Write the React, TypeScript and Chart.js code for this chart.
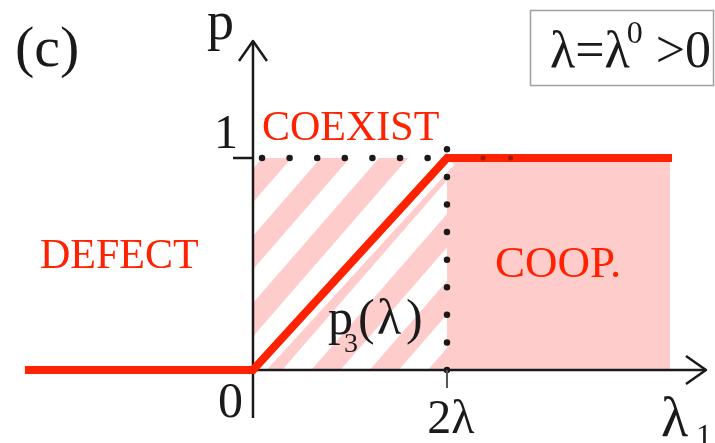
import React, { useEffect, useRef } from 'react';
import { Chart, registerables } from 'chart.js';

Chart.register(...registerables);

const W = 715;
const H = 443;

// Axis ranges: λ1 in units of λ, p is the cooperation probability
const LAMBDA_MIN = -2.608;
const LAMBDA_MAX = 4.763;
const P_MIN = -0.3443;
const P_MAX = 1.7453;

const lambdaTicks = [0, 2];
const lambdaTickLabels = ['0', '2λ'];
const pTicks = [1];
const pTickLabels = ['1'];

// Phase boundary p3(λ1)
const boundaryLambda = [-2.351, 0, 2, 4.32];
const boundaryP = [0, 0, 1, 1];

// Phase regions (λ1 extent)
const coexistLambda = [0, 2];
const coopLambda = [2, 4.299];
const regionNames = ['DEFECT', 'COEXIST', 'COOP.'];

const RED = '#ff2200';
const PINK = '#ffcccc';
const INK = '#1a1a1a';

const pts = (xs: number[], ys: number[]) => xs.map((x, i) => ({ x, y: ys[i] }));

const seg = (data: { x: number; y: number }[], extra: any) => ({
  data,
  pointRadius: 0,
  pointHoverRadius: 0,
  fill: false,
  tension: 0,
  borderCapStyle: 'butt',
  borderJoinStyle: 'miter',
  ...extra,
});

// Diagonal stripes for the coexistence region, parallel to p3(λ)
function stripePattern(chart: any): CanvasPattern | string {
  const { ctx, scales } = chart;
  const ox = scales.x.getPixelForValue(0);
  const oy = scales.y.getPixelForValue(0);
  const period = 44;
  const band = 22;
  const tile = document.createElement('canvas');
  tile.width = period;
  tile.height = 8;
  const t = tile.getContext('2d')!;
  t.fillStyle = '#ffffff';
  t.fillRect(0, 0, period, 8);
  t.fillStyle = PINK;
  t.fillRect(0, 0, band, 8);
  const pat = ctx.createPattern(tile, 'repeat');
  if (!pat) return PINK;
  pat.setTransform(new DOMMatrix().translate(ox, oy).rotate(41));
  return pat;
}

function serifFont(size: number) {
  return size + 'px "Liberation Serif"';
}

const labelsPlugin = {
  id: 'phaseLabels',
  afterDatasetsDraw(chart: any) {
    const c = chart.ctx as CanvasRenderingContext2D;
    const X = (v: number) => chart.scales.x.getPixelForValue(v);
    const Y = (v: number) => chart.scales.y.getPixelForValue(v);
    c.save();
    c.textBaseline = 'alphabetic';

    // panel tag
    c.fillStyle = INK;
    c.textAlign = 'left';
    c.font = serifFont(58);
    c.fillText('(c)', 15, 66);

    // axis titles
    c.font = serifFont(54);
    c.fillText('p', X(0) - 46, Y(1.5519) - 2);
    c.font = serifFont(56);
    c.fillText('λ', 661, 436);
    c.font = serifFont(32);
    c.fillText('1', 696, 446);

    // tick labels
    lambdaTicks.forEach((v, i) => {
      if (v === 0) {
        c.font = serifFont(50);
        c.textAlign = 'right';
        c.fillText(lambdaTickLabels[i], X(v) - 10, Y(0) + 47);
      } else {
        c.font = serifFont(48);
        c.textAlign = 'center';
        c.fillText(lambdaTickLabels[i], X(v) + 4, Y(0) + 63);
      }
    });
    pTicks.forEach((v, i) => {
      c.font = serifFont(48);
      c.textAlign = 'right';
      c.fillText(pTickLabels[i], X(0) - 15, Y(v) - 10);
    });

    // region names
    c.fillStyle = RED;
    c.textAlign = 'left';
    c.font = serifFont(42);
    c.fillText(regionNames[0], X(-2.196), Y(0.48));
    c.fillText(regionNames[1], X(0.093), Y(1.085));
    c.font = serifFont(45);
    c.fillText(regionNames[2], X(2.495), Y(0.439));

    // boundary label p3(λ)
    c.fillStyle = INK;
    const bx = X(0.773);
    const by = Y(0.17);
    c.font = serifFont(50);
    c.fillText('p', bx, by);
    c.font = serifFont(28);
    c.fillText('3', bx + 16, by + 18);
    c.font = serifFont(50);
    c.fillText('(', bx + 30, by);
    c.fillText('λ', bx + 49, by);
    c.fillText(')', bx + 78, by);

    // parameter box
    c.strokeStyle = '#a0a0a0';
    c.lineWidth = 1.5;
    c.strokeRect(530.5, 10.5, 183, 75);
    c.font = serifFont(52);
    c.fillText('λ=λ', 550, 67);
    const w = c.measureText('λ=λ').width;
    c.font = serifFont(32);
    c.fillText('0', 550 + w - 3, 43);
    c.font = serifFont(52);
    c.textAlign = 'right';
    c.fillText('>0', 711, 67);

    c.restore();
  },
};

export default function App() {
  const ref = useRef<HTMLCanvasElement>(null);

  useEffect(() => {
    const canvas = ref.current;
    if (!canvas) return;
    let pattern: CanvasPattern | string | null = null;
    const hatch = (ctx: any) => {
      const ch = ctx.chart;
      if (!ch.chartArea || !ch.scales.x) return PINK;
      if (!pattern) pattern = stripePattern(ch);
      return pattern;
    };

    const vGuide = lambdaTicks[1];
    const hGuide = pTicks[0];

    const chart = new Chart(canvas, {
      type: 'line',
      data: {
        datasets: [
          // COOP region
          seg(pts(coopLambda, [hGuide, hGuide]), {
            order: 10,
            borderWidth: 0,
            borderColor: 'rgba(0,0,0,0)',
            backgroundColor: PINK,
            fill: { value: 0 },
          }),
          // COEXIST region (hatched)
          seg(pts(coexistLambda, [hGuide, hGuide]), {
            order: 9,
            borderWidth: 0,
            borderColor: 'rgba(0,0,0,0)',
            backgroundColor: hatch,
            fill: { value: 0 },
          }),
          // white margin around the diagonal boundary
          seg(pts(boundaryLambda.slice(1, 3), boundaryP.slice(1, 3)), {
            order: 8,
            borderWidth: 20,
            borderColor: '#ffffff',
          }),
          // y axis
          seg(pts([0, 0], [-0.2264, 1.5519]), { order: 7, borderWidth: 2.5, borderColor: INK }),
          // x axis
          seg(pts([0, 4.67], [0, 0]), { order: 7, borderWidth: 2.5, borderColor: INK }),
          // boundary p3(λ1)
          seg(pts(boundaryLambda, boundaryP), { order: 5, borderWidth: 8, borderColor: RED }),
          // guide at p = 1
          seg(pts([0.093, 1.845], [hGuide, hGuide]), {
            order: 4,
            borderWidth: 6.5,
            borderColor: INK,
            borderCapStyle: 'round',
            borderDash: [0.01, 27.59],
          }),
          seg(pts([2.371, 2.938], [hGuide, hGuide]), {
            order: 4,
            borderWidth: 5,
            borderColor: 'rgba(60,20,20,0.5)',
            borderCapStyle: 'round',
            borderDash: [0.01, 27.59],
          }),
          // guide at λ1 = 2λ
          seg(pts([vGuide, vGuide], [0, 1.1698]), {
            order: 4,
            borderWidth: 6.5,
            borderColor: INK,
            borderCapStyle: 'round',
            borderDash: [0.01, 27.57],
          }),
          // tick marks
          seg(pts([-0.206, 0], [pTicks[0], pTicks[0]]), { order: 3, borderWidth: 2.5, borderColor: INK }),
          seg(pts([lambdaTicks[1], lambdaTicks[1]], [0, -0.0849]), { order: 3, borderWidth: 2, borderColor: '#555' }),
          // arrow heads
          seg(pts([-0.144, 0, 0.144], [1.4575, 1.5519, 1.4575]), {
            order: 3,
            borderWidth: 2.5,
            borderColor: INK,
            borderJoinStyle: 'round',
          }),
          seg(pts([4.464, 4.67, 4.464], [0.066, 0, -0.066]), {
            order: 3,
            borderWidth: 2.5,
            borderColor: INK,
            borderJoinStyle: 'round',
          }),
        ] as any,
      },
      options: {
        animation: false,
        responsive: false,
        devicePixelRatio: 1,
        layout: { padding: 0 },
        events: [],
        plugins: {
          legend: { display: false },
          tooltip: { enabled: false },
        },
        scales: {
          x: { type: 'linear', min: LAMBDA_MIN, max: LAMBDA_MAX, display: false },
          y: { type: 'linear', min: P_MIN, max: P_MAX, display: false },
        },
      } as any,
      plugins: [labelsPlugin],
    });

    return () => {
      chart.destroy();
    };
  }, []);

  return (
    <div style={{ position: 'fixed', left: 0, top: 0, width: W, height: H, background: '#ffffff' }}>
      <canvas ref={ref} width={W} height={H} style={{ display: 'block', width: W, height: H }} />
    </div>
  );
}
